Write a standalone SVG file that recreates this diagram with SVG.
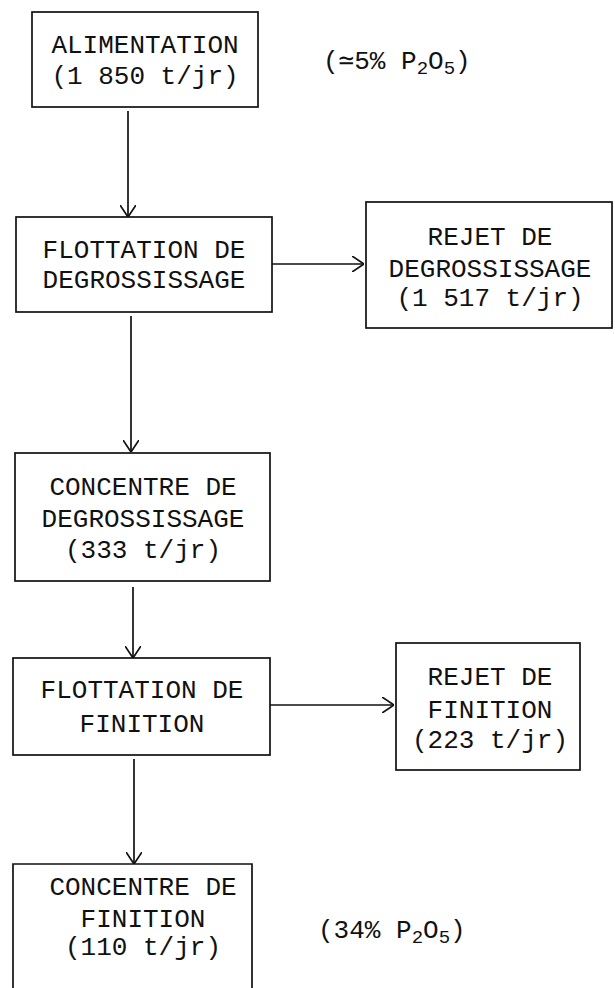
<svg xmlns="http://www.w3.org/2000/svg" width="615" height="988" viewBox="0 0 615 988">
<style>
  .box { fill: none; stroke: #111; stroke-width: 1.7; }
  .lbl { font-family: "Liberation Mono", "DejaVu Sans Mono", monospace; font-size: 26px; fill: #111; text-anchor: middle; }
  .note { font-family: "Liberation Mono", "DejaVu Sans Mono", monospace; font-size: 26px; fill: #111; }
  .sub { font-size: 19px; }
  .con { fill: none; stroke: #111; stroke-width: 1.7; }
</style>
<defs>
  <marker id="arr" viewBox="0 0 12 16" refX="12" refY="8" markerWidth="12" markerHeight="16" markerUnits="userSpaceOnUse" orient="auto">
    <path d="M0,0 L12,8 L0,16" fill="none" stroke="#111" stroke-width="1.7"/>
  </marker>
</defs>
<rect width="615" height="988" fill="#fff"/>

<g id="alimentation">
  <rect class="box" x="32" y="12" width="226" height="95"/>
  <text class="lbl" x="145" y="53">ALIMENTATION</text>
  <text class="lbl" x="145" y="84">(1 850 t/jr)</text>
</g>
<g id="note-alimentation">
  <text class="note" x="323" y="69">(≃5% P<tspan class="sub" dy="5">2</tspan><tspan dy="-5">O</tspan><tspan class="sub" dy="5">5</tspan><tspan dy="-5">)</tspan></text>
</g>

<g id="flottation-degrossissage">
  <rect class="box" x="16" y="217" width="256" height="95"/>
  <text class="lbl" x="144" y="258">FLOTTATION DE</text>
  <text class="lbl" x="144" y="288">DEGROSSISSAGE</text>
</g>

<g id="rejet-degrossissage">
  <rect class="box" x="366" y="202" width="246" height="126"/>
  <text class="lbl" x="490" y="245">REJET DE</text>
  <text class="lbl" x="490" y="277">DEGROSSISSAGE</text>
  <text class="lbl" x="490" y="306">(1 517 t/jr)</text>
</g>

<g id="concentre-degrossissage">
  <rect class="box" x="15" y="453" width="255" height="128"/>
  <text class="lbl" x="143" y="495">CONCENTRE DE</text>
  <text class="lbl" x="143" y="527">DEGROSSISSAGE</text>
  <text class="lbl" x="143" y="558">(333 t/jr)</text>
</g>

<g id="flottation-finition">
  <rect class="box" x="13" y="658" width="257" height="97"/>
  <text class="lbl" x="142" y="698">FLOTTATION DE</text>
  <text class="lbl" x="142" y="732">FINITION</text>
</g>

<g id="rejet-finition">
  <rect class="box" x="396" y="643" width="184" height="127"/>
  <text class="lbl" x="490" y="685">REJET DE</text>
  <text class="lbl" x="490" y="718">FINITION</text>
  <text class="lbl" x="490" y="748">(223 t/jr)</text>
</g>

<g id="concentre-finition">
  <path class="box" d="M13,988 L13,864 L252,864 L252,988"/>
  <text class="lbl" x="143" y="895">CONCENTRE DE</text>
  <text class="lbl" x="143" y="927">FINITION</text>
  <text class="lbl" x="143" y="955">(110 t/jr)</text>
</g>
<g id="note-finition">
  <text class="note" x="318" y="938">(34% P<tspan class="sub" dy="5">2</tspan><tspan dy="-5">O</tspan><tspan class="sub" dy="5">5</tspan><tspan dy="-5">)</tspan></text>
</g>

<g id="connectors">
  <line class="con" x1="128" y1="111" x2="128" y2="217" marker-end="url(#arr)"/>
  <line class="con" x1="131" y1="316" x2="131" y2="452" marker-end="url(#arr)"/>
  <line class="con" x1="133" y1="587" x2="133" y2="658" marker-end="url(#arr)"/>
  <line class="con" x1="134" y1="759" x2="134" y2="864" marker-end="url(#arr)"/>
  <line class="con" x1="272" y1="264" x2="364" y2="264" marker-end="url(#arr)"/>
  <line class="con" x1="270" y1="705" x2="394" y2="705" marker-end="url(#arr)"/>
</g>
</svg>
